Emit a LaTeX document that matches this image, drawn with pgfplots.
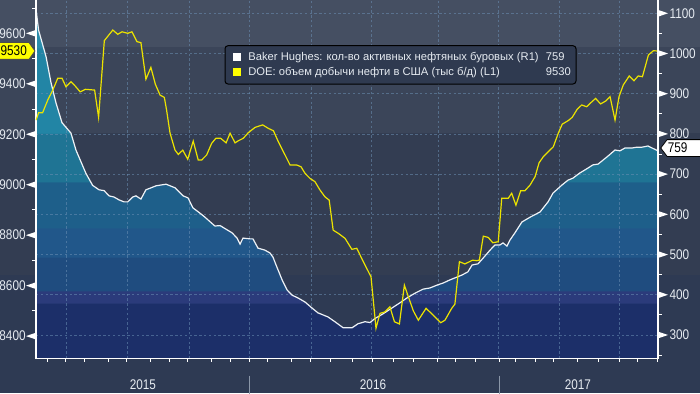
\documentclass[border=0pt]{standalone}
\usepackage{fontspec}
\setmainfont{Liberation Sans}
\newfontfamily\cond[FakeStretch=0.84]{Liberation Sans}
\usepackage{pgfplots}
\pgfplotsset{compat=1.18}
\usepackage{pgfplotstable}

\definecolor{bgA}{HTML}{454F62}
\definecolor{bgB}{HTML}{3B4559}
\definecolor{bgC}{HTML}{333D52}
\definecolor{bgD}{HTML}{2E3A53}
\definecolor{fA}{HTML}{1C2F69}
\definecolor{fB}{HTML}{2B3B7B}
\definecolor{fC}{HTML}{1F4C7F}
\definecolor{fD}{HTML}{21578A}
\definecolor{fE}{HTML}{1E5F8A}
\definecolor{fF}{HTML}{1F7494}
\definecolor{fG}{HTML}{2285A5}
\definecolor{fH}{HTML}{2A8DAC}
\definecolor{gridc}{HTML}{6C90B4}
\definecolor{tickc}{HTML}{E6EBF1}
\definecolor{yel}{HTML}{ECE300}
\definecolor{yelsq}{HTML}{FFFF00}
\definecolor{rigc}{HTML}{EEF2F6}
\definecolor{legbg}{HTML}{2F3A50}
\definecolor{sepc}{HTML}{8A96A8}

\pgfdeclareverticalshading{rigfill}{100bp}{%
color(0bp)=(fA); color(32.94bp)=(fA);
color(32.95bp)=(fB); color(34.66bp)=(fB);
color(34.67bp)=(fC); color(39.54bp)=(fC);
color(39.55bp)=(fD); color(43.71bp)=(fD);
color(43.72bp)=(fE); color(50.31bp)=(fE);
color(50.32bp)=(fF); color(57.34bp)=(fF);
color(57.35bp)=(fG); color(69.55bp)=(fG);
color(69.56bp)=(fH); color(100bp)=(fH)}

\newcommand\tickfont{\cond\fontsize{7}{8}\selectfont}
\newcommand\legfont{\fontsize{5.6}{6.7}\selectfont}

\pgfplotstableread{
x R
2015.143 1108
2015.153 1058
2015.183 992
2015.203 927
2015.223 877
2015.247 828
2015.283 802
2015.303 760
2015.343 702
2015.370 672
2015.396 661
2015.416 659
2015.436 646
2015.456 643
2015.476 636
2015.496 631
2015.511 631
2015.531 643
2015.544 646
2015.564 638
2015.584 661
2015.625 671
2015.665 675
2015.701 666
2015.733 646
2015.753 641
2015.773 616
2015.801 603
2015.821 593
2015.861 571
2015.882 572
2015.930 554
2015.950 541
2015.962 526
2015.974 541
2016.002 539
2016.014 539
2016.034 516
2016.062 511
2016.082 504
2016.094 494
2016.110 469
2016.131 437
2016.151 412
2016.171 399
2016.195 392
2016.223 382
2016.251 367
2016.275 355
2016.315 345
2016.343 333
2016.376 318
2016.412 318
2016.436 328
2016.464 333
2016.484 331
2016.504 341
2016.532 351
2016.572 367
2016.604 380
2016.637 394
2016.665 404
2016.697 414
2016.725 417
2016.753 424
2016.777 429
2016.805 437
2016.825 442
2016.853 449
2016.877 457
2016.894 474
2016.918 477
2016.938 491
2016.966 511
2016.986 524
2017.006 524
2017.018 529
2017.034 521
2017.046 536
2017.066 554
2017.094 581
2017.127 593
2017.167 606
2017.199 631
2017.219 653
2017.255 673
2017.279 685
2017.299 690
2017.327 703
2017.359 715
2017.379 723
2017.400 725
2017.436 743
2017.468 760
2017.488 758
2017.508 765
2017.536 765
2017.556 767
2017.576 767
2017.600 770
2017.637 759
}\rigs

\pgfplotstableread{
x P
2015.143 9256
2015.153 9285
2015.169 9285
2015.190 9336
2015.210 9375
2015.230 9422
2015.247 9422
2015.263 9388
2015.283 9408
2015.300 9391
2015.320 9368
2015.341 9378
2015.378 9375
2015.394 9267
2015.417 9571
2015.451 9613
2015.471 9596
2015.488 9606
2015.511 9600
2015.528 9606
2015.548 9567
2015.564 9563
2015.584 9418
2015.604 9465
2015.622 9398
2015.641 9355
2015.658 9346
2015.667 9296
2015.681 9204
2015.701 9137
2015.714 9120
2015.732 9137
2015.752 9101
2015.774 9173
2015.794 9098
2015.808 9098
2015.828 9118
2015.848 9164
2015.865 9184
2015.884 9184
2015.906 9166
2015.922 9204
2015.942 9166
2015.955 9174
2015.975 9184
2015.995 9206
2016.022 9227
2016.053 9237
2016.076 9223
2016.096 9214
2016.116 9170
2016.136 9131
2016.163 9078
2016.190 9078
2016.207 9071
2016.223 9045
2016.243 9025
2016.263 9012
2016.283 8979
2016.303 8952
2016.320 8939
2016.336 8820
2016.357 8807
2016.384 8787
2016.411 8744
2016.431 8748
2016.457 8695
2016.488 8635
2016.508 8431
2016.524 8490
2016.544 8496
2016.564 8516
2016.582 8457
2016.602 8448
2016.622 8602
2016.638 8556
2016.658 8500
2016.678 8463
2016.709 8510
2016.738 8483
2016.768 8453
2016.785 8463
2016.812 8510
2016.825 8527
2016.843 8695
2016.865 8686
2016.896 8701
2016.912 8699
2016.923 8701
2016.939 8796
2016.959 8791
2016.977 8770
2016.999 8774
2017.013 8946
2017.039 8946
2017.053 8966
2017.070 8919
2017.089 8976
2017.106 8976
2017.127 8999
2017.147 9032
2017.163 9087
2017.180 9111
2017.200 9131
2017.220 9150
2017.240 9204
2017.256 9240
2017.280 9254
2017.296 9267
2017.316 9299
2017.334 9316
2017.354 9309
2017.371 9325
2017.390 9342
2017.410 9320
2017.431 9332
2017.448 9349
2017.468 9256
2017.484 9349
2017.501 9395
2017.525 9431
2017.544 9412
2017.561 9431
2017.578 9428
2017.602 9514
2017.622 9531
2017.637 9530
}\prod

\begin{document}
\begin{tikzpicture}[x=1pt,y=1pt]
\fill[bgD] (0,0) rectangle (350,59);
\fill[bgC] (0,59) rectangle (350,130);
\fill[bgB] (0,130) rectangle (350,173);
\fill[bgA] (0,173) rectangle (350,196.5);

% ---------- right axis: oil rigs ----------
\begin{axis}[
  at={(18pt,17.35pt)}, anchor=south west, scale only axis,
  width=311pt, height=179.15pt,
  xmin=2015.1426, xmax=2017.6406, ymin=242, ymax=1133,
  axis line style={draw=none}, tick style={draw=none}, major tick length=0pt,
  xtick=\empty,
  ytick={300,400,500,600,700,800,900,1000,1100},
  ytick pos=right, yticklabel pos=right,
  yticklabel style={anchor=west, inner sep=0pt, font=\tickfont, text=tickc,
    /pgf/number format/assume math mode=true, /pgf/number format/1000 sep={}},
  yticklabel shift=5.6pt,
  clip=false,
]
\addplot[draw=none, shading=rigfill, forget plot] table[x=x,y=R]{\rigs}
  -- (axis cs:2017.637,242) -- (axis cs:2015.143,242) -- cycle;
% grid
\pgfplotsinvokeforeach{300,400,500,600,700,800,900,1000,1100}{
  \draw[gridc, opacity=0.55, line width=0.4pt, dash pattern=on 1.2pt off 1.2pt]
    (axis cs:2015.1426,#1) -- (axis cs:2017.6406,#1);}
\pgfplotsinvokeforeach{2015.263,2015.508,2015.757,2015.998,2016.247,2016.488,2016.757,2016.998,2017.243,2017.484}{
  \draw[gridc, opacity=0.55, line width=0.4pt, dash pattern=on 1.2pt off 1.2pt]
    (axis cs:#1,242) -- (axis cs:#1,1133);}
\addplot[rigc, line width=0.6pt] table[x=x,y=R]{\rigs};
% axis box
\draw[white, line width=0.6pt] (axis cs:2015.1426,1133) -- (axis cs:2015.1426,242) -- (axis cs:2017.6406,242) -- (axis cs:2017.6406,1133);
% bottom monthly ticks
\pgfplotsinvokeforeach{2015.190,2015.263,2015.339,2015.432,2015.508,2015.604,2015.677,2015.753,2015.849,2015.922,2015.998,2016.074,2016.167,2016.243,2016.327,2016.412,2016.492,2016.580,2016.659,2016.755,2016.827,2016.908,2017.002,2017.070,2017.147,2017.219,2017.319,2017.400,2017.484,2017.560,2017.637}{
  \draw[white, line width=0.5pt] (axis cs:#1,242) -- ++(0pt,-1.6pt);}
% right triangles and minor ticks
\pgfplotsinvokeforeach{300,400,500,600,700,800,900,1000,1100}{
  \fill[white] ([xshift=0.6pt,yshift=1.5pt]axis cs:2017.6406,#1) -- ++(4.4pt,-1.5pt) -- ++(-4.4pt,-1.5pt) -- cycle;}
\pgfplotsinvokeforeach{250,350,450,550,650,750,850,950,1050}{
  \draw[white, line width=0.5pt] (axis cs:2017.6406,#1) -- ++(2pt,0pt);}
% year labels and separators
\node[font=\tickfont, text=tickc] at ([yshift=-13.4pt]axis cs:2015.572,242) {2015};
\node[font=\tickfont, text=tickc] at ([yshift=-13.4pt]axis cs:2016.496,242) {2016};
\node[font=\tickfont, text=tickc] at ([yshift=-13.4pt]axis cs:2017.319,242) {2017};
\draw[sepc, line width=0.5pt] ([yshift=-8.7pt]axis cs:2015.998,242) -- ([yshift=-19pt]axis cs:2015.998,242);
\draw[sepc, line width=0.5pt] ([yshift=-8.7pt]axis cs:2017.002,242) -- ([yshift=-19pt]axis cs:2017.002,242);
% value tag 759
\draw[black, fill=white, line width=0.4pt] ([xshift=1.35pt,yshift=1.2pt]axis cs:2017.6406,759)
  -- ++(3.2pt,4.2pt) -- ++(20pt,0pt) -- ++(0pt,-8.4pt) -- ++(-20pt,0pt) -- cycle;
\node[anchor=west, inner sep=0pt, font=\tickfont, text=black] at ([xshift=4.7pt,yshift=1.2pt]axis cs:2017.6406,759) {759};
\end{axis}

% ---------- left axis: production ----------
\begin{axis}[
  at={(18pt,17.35pt)}, anchor=south west, scale only axis,
  width=311pt, height=179.15pt,
  xmin=2015.1426, xmax=2017.6406, ymin=8312, ymax=9732,
  hide x axis,
  axis line style={draw=none}, tick style={draw=none}, major tick length=0pt,
  ytick={8400,8600,8800,9000,9200,9400,9600},
  ytick pos=left,
  yticklabel style={anchor=east, inner sep=0pt, font=\tickfont, text=tickc,
    /pgf/number format/assume math mode=true, /pgf/number format/1000 sep={}},
  yticklabel shift=5pt,
  clip=false,
]
\addplot[yel, line width=0.6pt] table[x=x,y=P]{\prod};
\pgfplotsinvokeforeach{8400,8600,8800,9000,9200,9400,9600}{
  \fill[white] ([xshift=-0.6pt,yshift=1.5pt]axis cs:2015.1426,#1) -- ++(-4.4pt,-1.5pt) -- ++(4.4pt,-1.5pt) -- cycle;}
\pgfplotsinvokeforeach{8500,8700,8900,9100,9300,9500,9700}{
  \draw[white, line width=0.5pt] (axis cs:2015.1426,#1) -- ++(-2pt,0pt);}
% value tag 9530
\draw[black!70, fill=yelsq, line width=0.4pt] ([xshift=-0.5pt]axis cs:2015.1426,9530)
  -- ++(-3pt,4.2pt) -- ++(-20pt,0pt) -- ++(0pt,-8.4pt) -- ++(20pt,0pt) -- cycle;
\node[anchor=east, inner sep=0pt, font=\tickfont, text=black] at ([xshift=-4.4pt]axis cs:2015.1426,9530) {9530};
\end{axis}

% ---------- legend ----------
\draw[black, fill=legbg, rounded corners=1.5pt, line width=0.5pt] (112.5,154.5) rectangle (288,173.65);
\fill[white] (116.4,166.1) rectangle (120.5,169.9);
\fill[yelsq] (116.4,158.6) rectangle (120.5,162.4);
\node[anchor=base west, inner sep=0pt, font=\legfont, text=tickc] at (124,166.15) {Baker Hughes: кол-во активных нефтяных буровых (R1)};
\node[anchor=base west, inner sep=0pt, font=\legfont, text=tickc] at (124,158.65) {DOE: объем добычи нефти в США (тыс б/д) (L1)};
\node[anchor=base west, inner sep=0pt, font=\legfont, text=tickc] at (272.75,166.15) {759};
\node[anchor=base west, inner sep=0pt, font=\legfont, text=tickc] at (272.75,158.65) {9530};
\pgfresetboundingbox
\path[use as bounding box] (0,0) rectangle (350,196.5);
\end{tikzpicture}
\end{document}
